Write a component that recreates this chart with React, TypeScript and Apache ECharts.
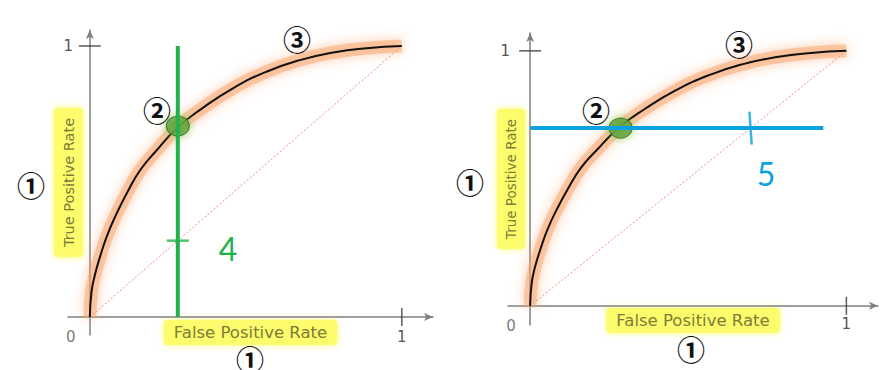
import React, { useEffect, useRef } from "react";
import * as echarts from "echarts";

// ROC curve (shared shape for both panels): [FPR, TPR]
const curveFPR = [0, 0.005, 0.015, 0.032, 0.055, 0.085, 0.12, 0.16, 0.21, 0.282, 0.36, 0.46, 0.566, 0.673, 0.78, 0.887, 1];
const curveTPR = [0, 0.09, 0.15, 0.22, 0.3, 0.38, 0.46, 0.54, 0.61, 0.70, 0.77, 0.845, 0.905, 0.948, 0.976, 0.992, 1];
const diagonal = [[0, 0], [1, 1]];

// Left panel: fixed FPR threshold (vertical line)
const leftFPR = 0.282;
const leftPoint = [0.282, 0.705];
const leftLineTPR = [0, 1];

// Right panel: fixed TPR threshold (horizontal line)
const rightTPR = 0.697;
const rightPoint = [0.286, 0.697];
const rightLineFPR = [0, 0.927];

const axisTickLabels = ["0", "1"];

const curve = curveFPR.map((x, i) => [x, curveTPR[i]]);

const AXIS_COLOR = "#808080";
const LABEL_COLOR = "#7d7d36";
const YELLOW = "#fcfc6c";
const GREEN = "#22b14c";
const BLUE = "#0aa2e0";

function panelSeries(idx: number, kind: "left" | "right") {
  const base = { xAxisIndex: idx, yAxisIndex: idx, animation: false, silent: true };
  const s: any[] = [
    {
      ...base,
      type: "line",
      data: diagonal,
      symbol: "none",
      lineStyle: { color: "#f08a8a", width: 1, type: [2, 2] },
      z: 2,
    },
    {
      ...base,
      type: "line",
      data: curve,
      smooth: 0.5,
      symbol: "none",
      lineStyle: {
        color: "rgba(250,165,110,0.5)",
        width: 13,
        shadowBlur: 12,
        shadowColor: "rgba(250,140,70,0.85)",
      },
      z: 3,
    },
    {
      ...base,
      type: "line",
      data: curve,
      smooth: 0.5,
      symbol: "none",
      lineStyle: { color: "#111", width: 2 },
      z: 4,
    },
    {
      ...base,
      type: "scatter",
      data: [kind === "left" ? leftPoint : rightPoint],
      symbol: "circle",
      symbolSize: [23, 20],
      itemStyle: {
        color: "#5e9e3c",
        borderColor: "#2f5a1e",
        borderWidth: 1,
        shadowBlur: 8,
        shadowColor: "rgba(120,220,80,0.9)",
      },
      z: 5,
    },
    // axis cross ticks at (0,1) and (1,0)
    {
      ...base,
      type: "scatter",
      data: [[0, 1]],
      symbol: "rect",
      symbolSize: [22, 1.5],
      itemStyle: { color: "#333" },
      z: 6,
    },
    {
      ...base,
      type: "scatter",
      data: [[1, 0]],
      symbol: "rect",
      symbolSize: [1.5, 18],
      itemStyle: { color: "#333" },
      z: 6,
    },
    // "0" label at origin
    {
      ...base,
      type: "scatter",
      data: [[0, 0]],
      symbolSize: 0,
      label: {
        show: true,
        formatter: axisTickLabels[0],
        position: "inside",
        offset: [-19, 20],
        fontSize: 15,
        fontFamily: "DejaVu Sans",
        color: "#555",
      },
      z: 6,
    },
  ];
  if (kind === "left") {
    s.push({
      ...base,
      type: "line",
      data: leftLineTPR.map((y) => [leftFPR, y]),
      symbol: "none",
      lineStyle: { color: GREEN, width: 4 },
      z: 7,
    });
    s.push({
      ...base,
      type: "scatter",
      data: [[leftFPR, leftFPR]],
      symbol: "rect",
      symbolSize: [22, 2.5],
      itemStyle: { color: GREEN },
      z: 8,
    });
  } else {
    s.push({
      ...base,
      type: "line",
      data: rightLineFPR.map((x) => [x, rightTPR]),
      symbol: "none",
      lineStyle: { color: BLUE, width: 4 },
      z: 7,
    });
    s.push({
      ...base,
      type: "scatter",
      data: [[rightTPR, rightTPR]],
      symbol: "rect",
      symbolSize: [2.5, 33],
      symbolRotate: 4,
      itemStyle: { color: BLUE },
      z: 8,
    });
  }
  return s;
}

function xAxisCfg(idx: number, nameGap: number, labelMargin: number) {
  return {
    type: "value",
    gridIndex: idx,
    min: -0.07,
    max: 1.1,
    splitLine: { show: false },
    axisTick: { show: false },
    axisLine: {
      show: true,
      onZero: true,
      symbol: ["none", "arrow"],
      symbolSize: [6, 9],
      lineStyle: { color: AXIS_COLOR, width: 1.5 },
    },
    axisLabel: {
      show: true,
      customValues: [1],
      formatter: () => axisTickLabels[1],
      margin: labelMargin,
      fontSize: 15,
      fontFamily: "DejaVu Sans",
      color: "#555",
    },
    name: "False Positive Rate",
    nameLocation: "middle",
    nameGap,
    nameMoveOverlap: false,
    nameTextStyle: {
      fontSize: 16.5,
      fontFamily: "DejaVu Sans",
      color: LABEL_COLOR,
      backgroundColor: YELLOW,
      padding: [4, 10, 4, 10],
      borderRadius: 4,
      shadowBlur: 6,
      shadowColor: YELLOW,
      verticalAlign: "top",
    },
  };
}

function yAxisCfg(idx: number, min: number, max: number, nameGap: number, labelMargin: number, fs: number) {
  return {
    type: "value",
    gridIndex: idx,
    min,
    max,
    splitLine: { show: false },
    axisTick: { show: false },
    axisLine: {
      show: true,
      onZero: true,
      symbol: ["none", "arrow"],
      symbolSize: [6, 9],
      lineStyle: { color: AXIS_COLOR, width: 1.5 },
    },
    axisLabel: {
      show: true,
      customValues: [1],
      formatter: () => axisTickLabels[1],
      margin: labelMargin,
      fontSize: 15,
      fontFamily: "DejaVu Sans",
      color: "#555",
    },
    name: "True Positive Rate",
    nameLocation: "middle",
    nameGap,
    nameMoveOverlap: false,
    nameTextStyle: {
      fontSize: fs,
      fontFamily: "DejaVu Sans",
      color: LABEL_COLOR,
      backgroundColor: YELLOW,
      padding: [7, 10, 7, 10],
      borderRadius: 4,
      shadowBlur: 6,
      shadowColor: YELLOW,
    },
  };
}

function circled(ch: string, x: number, y: number) {
  return {
    type: "text",
    x,
    y,
    style: {
      text: ch,
      fontSize: 28,
      fontWeight: "bold",
      fontFamily: "Noto Sans CJK KR",
      fill: "#111",
      align: "center",
      verticalAlign: "middle",
    },
    z: 20,
  };
}

function hand(ch: string, x: number, y: number, color: string) {
  return {
    type: "text",
    x,
    y,
    style: {
      text: ch,
      fontSize: 32,
      fontWeight: 400,
      fontFamily: "Lato",
      fill: color,
      align: "center",
      verticalAlign: "middle",
    },
    z: 20,
  };
}

export default function App() {
  const ref = useRef<HTMLDivElement>(null);
  useEffect(() => {
    if (!ref.current) return;
    const chart = echarts.init(ref.current, undefined, { renderer: "svg" });
    chart.setOption({
      animation: false,
      backgroundColor: "#fff",
      grid: [
        { left: 68, top: 30, width: 365, height: 305, containLabel: false, outerBoundsMode: "none" },
        { left: 508, top: 33, width: 370, height: 292, containLabel: false, outerBoundsMode: "none" },
      ],
      xAxis: [xAxisCfg(0, -15, -5.5), xAxisCfg(1, -17, -8.5)],
      yAxis: [
        yAxisCfg(0, -0.066, 1.059, -15, -5, 14.5),
        yAxisCfg(1, -0.075, 1.07, -17, -2, 13.5),
      ],
      series: [...panelSeries(0, "left"), ...panelSeries(1, "right")],
      graphic: [
        circled("①", 31, 185),
        circled("①", 250, 359),
        circled("②", 157, 110),
        circled("③", 297, 39),
        circled("①", 470, 182),
        circled("①", 691, 349),
        circled("②", 596, 110),
        circled("③", 739, 44),
        hand("4", 228, 248, GREEN),
        hand("5", 766, 173, BLUE),
      ],
    });
    return () => chart.dispose();
  }, []);
  return (
    <div
      ref={ref}
      style={{ position: "fixed", left: 0, top: 0, width: 886, height: 370 }}
    />
  );
}
